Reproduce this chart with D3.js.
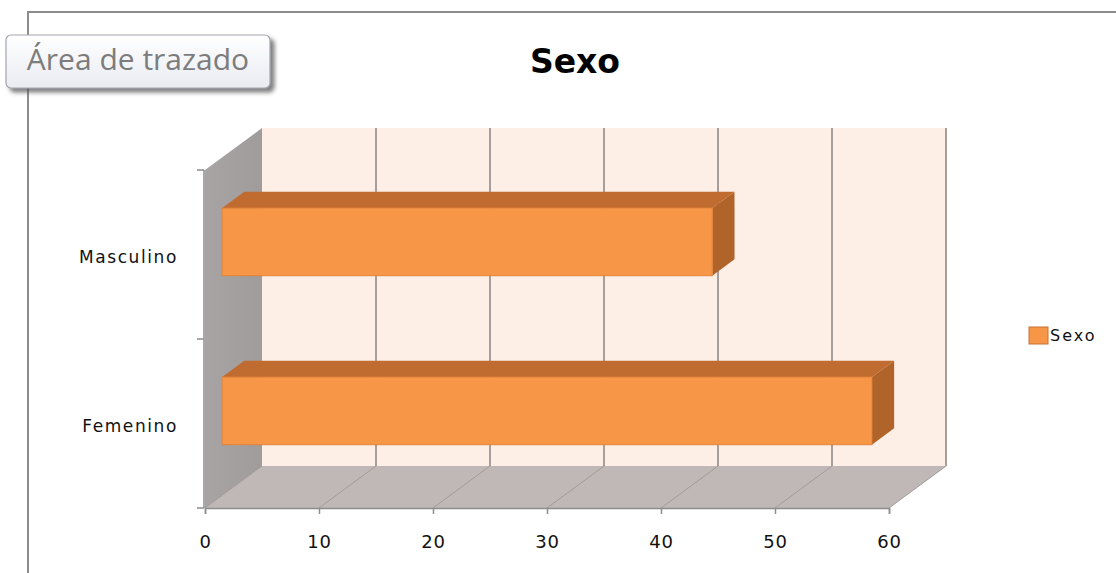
<!DOCTYPE html>
<html>
<head>
<meta charset="utf-8">
<script src="https://cdn.jsdelivr.net/npm/d3@7"></script>
<style>
  html, body { margin: 0; padding: 0; background: #ffffff; }
  svg { display: block; }
  text { font-family: "DejaVu Sans", sans-serif; }
</style>
</head>
<body>
<div id="chart"></div>
<script>
// Chart data
const chartTitle = "Sexo";
const seriesName = "Sexo";
const categories = ["Masculino", "Femenino"];
const values = [43, 57];
const xTicks = [0, 10, 20, 30, 40, 50, 60];

const W = 1116, H = 573;
const svg = d3.select("#chart").append("svg").attr("width", W).attr("height", H);

const defs = svg.append("defs");
const sh = defs.append("filter").attr("id", "shadow").attr("x", "-10%").attr("y", "-20%").attr("width", "130%").attr("height", "160%");
sh.append("feDropShadow").attr("dx", 4).attr("dy", 4).attr("stdDeviation", 2).attr("flood-color", "#555").attr("flood-opacity", 0.75);
const tipGrad = defs.append("linearGradient").attr("id", "tipGrad").attr("x1", 0).attr("y1", 0).attr("x2", 0).attr("y2", 1);
tipGrad.append("stop").attr("offset", "0%").attr("stop-color", "#ffffff");
tipGrad.append("stop").attr("offset", "100%").attr("stop-color", "#e9ebf2");
const wallGrad = defs.append("linearGradient").attr("id", "wallGrad").attr("x1", 0).attr("y1", 0).attr("x2", 1).attr("y2", 0);
wallGrad.append("stop").attr("offset", "0%").attr("stop-color", "#a8a4a4");
wallGrad.append("stop").attr("offset", "100%").attr("stop-color", "#a09c9c");

// Chart area frame
svg.append("path")
  .attr("d", `M28,${H} L28,12 L${W},12`)
  .attr("fill", "none").attr("stroke", "#8c8c8c").attr("stroke-width", 2);

// Scales (front plane of the 3D box)
const x = d3.scaleLinear().domain([0, 60]).range([205, 889]);
const y = d3.scaleBand().domain(categories).range([170, 508]);
const yTop = 170, yBottom = 508;

// Oblique depth offset
const DX = 57, DY = -42;
const P = (v, yy, d) => [x(v) + DX * d, yy + DY * d];
const poly = pts => "M" + pts.map(p => p.join(",")).join("L") + "Z";

// Back wall
svg.append("path")
  .attr("d", poly([P(0, yTop, 1), P(60, yTop, 1), P(60, yBottom, 1), P(0, yBottom, 1)]))
  .attr("fill", "#fdeee6");

// Side wall
svg.append("path")
  .attr("d", poly([P(0, yTop, 0), P(0, yTop, 1), P(0, yBottom, 1), P(0, yBottom, 0)]))
  .attr("fill", "url(#wallGrad)");

// Floor
svg.append("path")
  .attr("d", poly([P(0, yBottom, 0), P(60, yBottom, 0), P(60, yBottom, 1), P(0, yBottom, 1)]))
  .attr("fill", "#c0b8b6");

// Gridlines on back wall and floor
const grid = svg.append("g");
grid.selectAll("line.back").data(xTicks.slice(1)).join("line")
  .attr("class", "back")
  .attr("x1", d => P(d, yTop, 1)[0]).attr("y1", d => P(d, yTop, 1)[1])
  .attr("x2", d => P(d, yBottom, 1)[0]).attr("y2", d => P(d, yBottom, 1)[1])
  .attr("stroke", "#8e8a8a").attr("stroke-width", 1.6);
grid.selectAll("line.floor").data(xTicks).join("line")
  .attr("class", "floor")
  .attr("x1", d => P(d, yBottom, 0)[0]).attr("y1", d => P(d, yBottom, 0)[1])
  .attr("x2", d => P(d, yBottom, 1)[0]).attr("y2", d => P(d, yBottom, 1)[1])
  .attr("stroke", "#a29b99").attr("stroke-width", 1);

// Bars
const d0 = 0.3, d1 = 0.69;
const bh = y.bandwidth() / 2.5;
const bars = svg.append("g").selectAll("g").data(categories.map((c, i) => ({ c, v: values[i] }))).join("g");
bars.each(function (d) {
  const g = d3.select(this);
  const t = y(d.c) + (y.bandwidth() - bh) / 2, b = t + bh;
  g.append("path")
    .attr("d", poly([P(0, t, d0), P(d.v, t, d0), P(d.v, t, d1), P(0, t, d1)]))
    .attr("fill", "#c06b30");
  g.append("path")
    .attr("d", poly([P(d.v, t, d0), P(d.v, t, d1), P(d.v, b, d1), P(d.v, b, d0)]))
    .attr("fill", "#b0642a");
  const f0 = P(0, t, d0), f1 = P(d.v, b, d0);
  g.append("rect")
    .attr("x", f0[0]).attr("y", f0[1])
    .attr("width", f1[0] - f0[0]).attr("height", f1[1] - f0[1])
    .attr("fill", "#f79646").attr("stroke", "#e3843a").attr("stroke-width", 1);
});

// X axis
const xAxis = svg.append("g")
  .attr("transform", `translate(0,${yBottom})`)
  .call(d3.axisBottom(x).tickValues(xTicks).tickSize(6).tickPadding(21));
xAxis.select(".domain").attr("stroke", "#8c8c8c").attr("stroke-width", 1.5);
xAxis.selectAll(".tick line").attr("stroke", "#8c8c8c").attr("stroke-width", 1.5);
xAxis.selectAll(".tick text")
  .attr("font-size", 18).attr("fill", "#111")
  .style("font-family", "'DejaVu Sans', sans-serif")
  .style("letter-spacing", "0.8px");

// Y axis: line, boundary ticks and category labels
const yAxis = svg.append("g");
yAxis.append("line")
  .attr("x1", 204).attr("x2", 204).attr("y1", yTop).attr("y2", yBottom)
  .attr("stroke", "#8c8c8c").attr("stroke-width", 1.5);
const bounds = categories.map(c => y(c)).concat([y.range()[1]]);
yAxis.selectAll("line.tk").data(bounds).join("line")
  .attr("class", "tk")
  .attr("x1", 197).attr("x2", 204).attr("y1", d => d).attr("y2", d => d)
  .attr("stroke", "#8c8c8c").attr("stroke-width", 1.5);
yAxis.selectAll("text").data(categories).join("text")
  .attr("x", 178).attr("y", d => y(d) + y.bandwidth() / 2 + 3)
  .attr("text-anchor", "end").attr("dominant-baseline", "middle")
  .attr("font-size", 17).attr("fill", "#111")
  .style("letter-spacing", "1.6px")
  .text(d => d);

// Title
svg.append("text")
  .attr("x", 575).attr("y", 63)
  .attr("text-anchor", "middle").attr("dominant-baseline", "middle")
  .attr("font-size", 33).attr("font-weight", "bold").attr("fill", "#000")
  .text(chartTitle);

// Legend
const lg = svg.append("g").attr("transform", "translate(1029,327)");
lg.append("rect").attr("width", 19).attr("height", 17)
  .attr("fill", "#f79646").attr("stroke", "#c77330").attr("stroke-width", 1);
lg.append("text").attr("x", 21).attr("y", 9)
  .attr("dominant-baseline", "middle")
  .attr("font-size", 16).attr("fill", "#111")
  .style("letter-spacing", "2px")
  .text(seriesName);

// Hover tooltip for the plot area
const tip = svg.append("g");
tip.append("rect")
  .attr("x", 6).attr("y", 35).attr("width", 264).attr("height", 53).attr("rx", 5)
  .attr("fill", "url(#tipGrad)").attr("stroke", "#a3a5ad").attr("stroke-width", 1.2)
  .attr("filter", "url(#shadow)");
tip.append("text")
  .attr("x", 138).attr("y", 62)
  .attr("text-anchor", "middle").attr("dominant-baseline", "middle")
  .attr("font-size", 30).attr("fill", "#7c7c7c")
  .style("font-family", "'Open Sans', sans-serif")
  .text("Área de trazado");
</script>
</body>
</html>
